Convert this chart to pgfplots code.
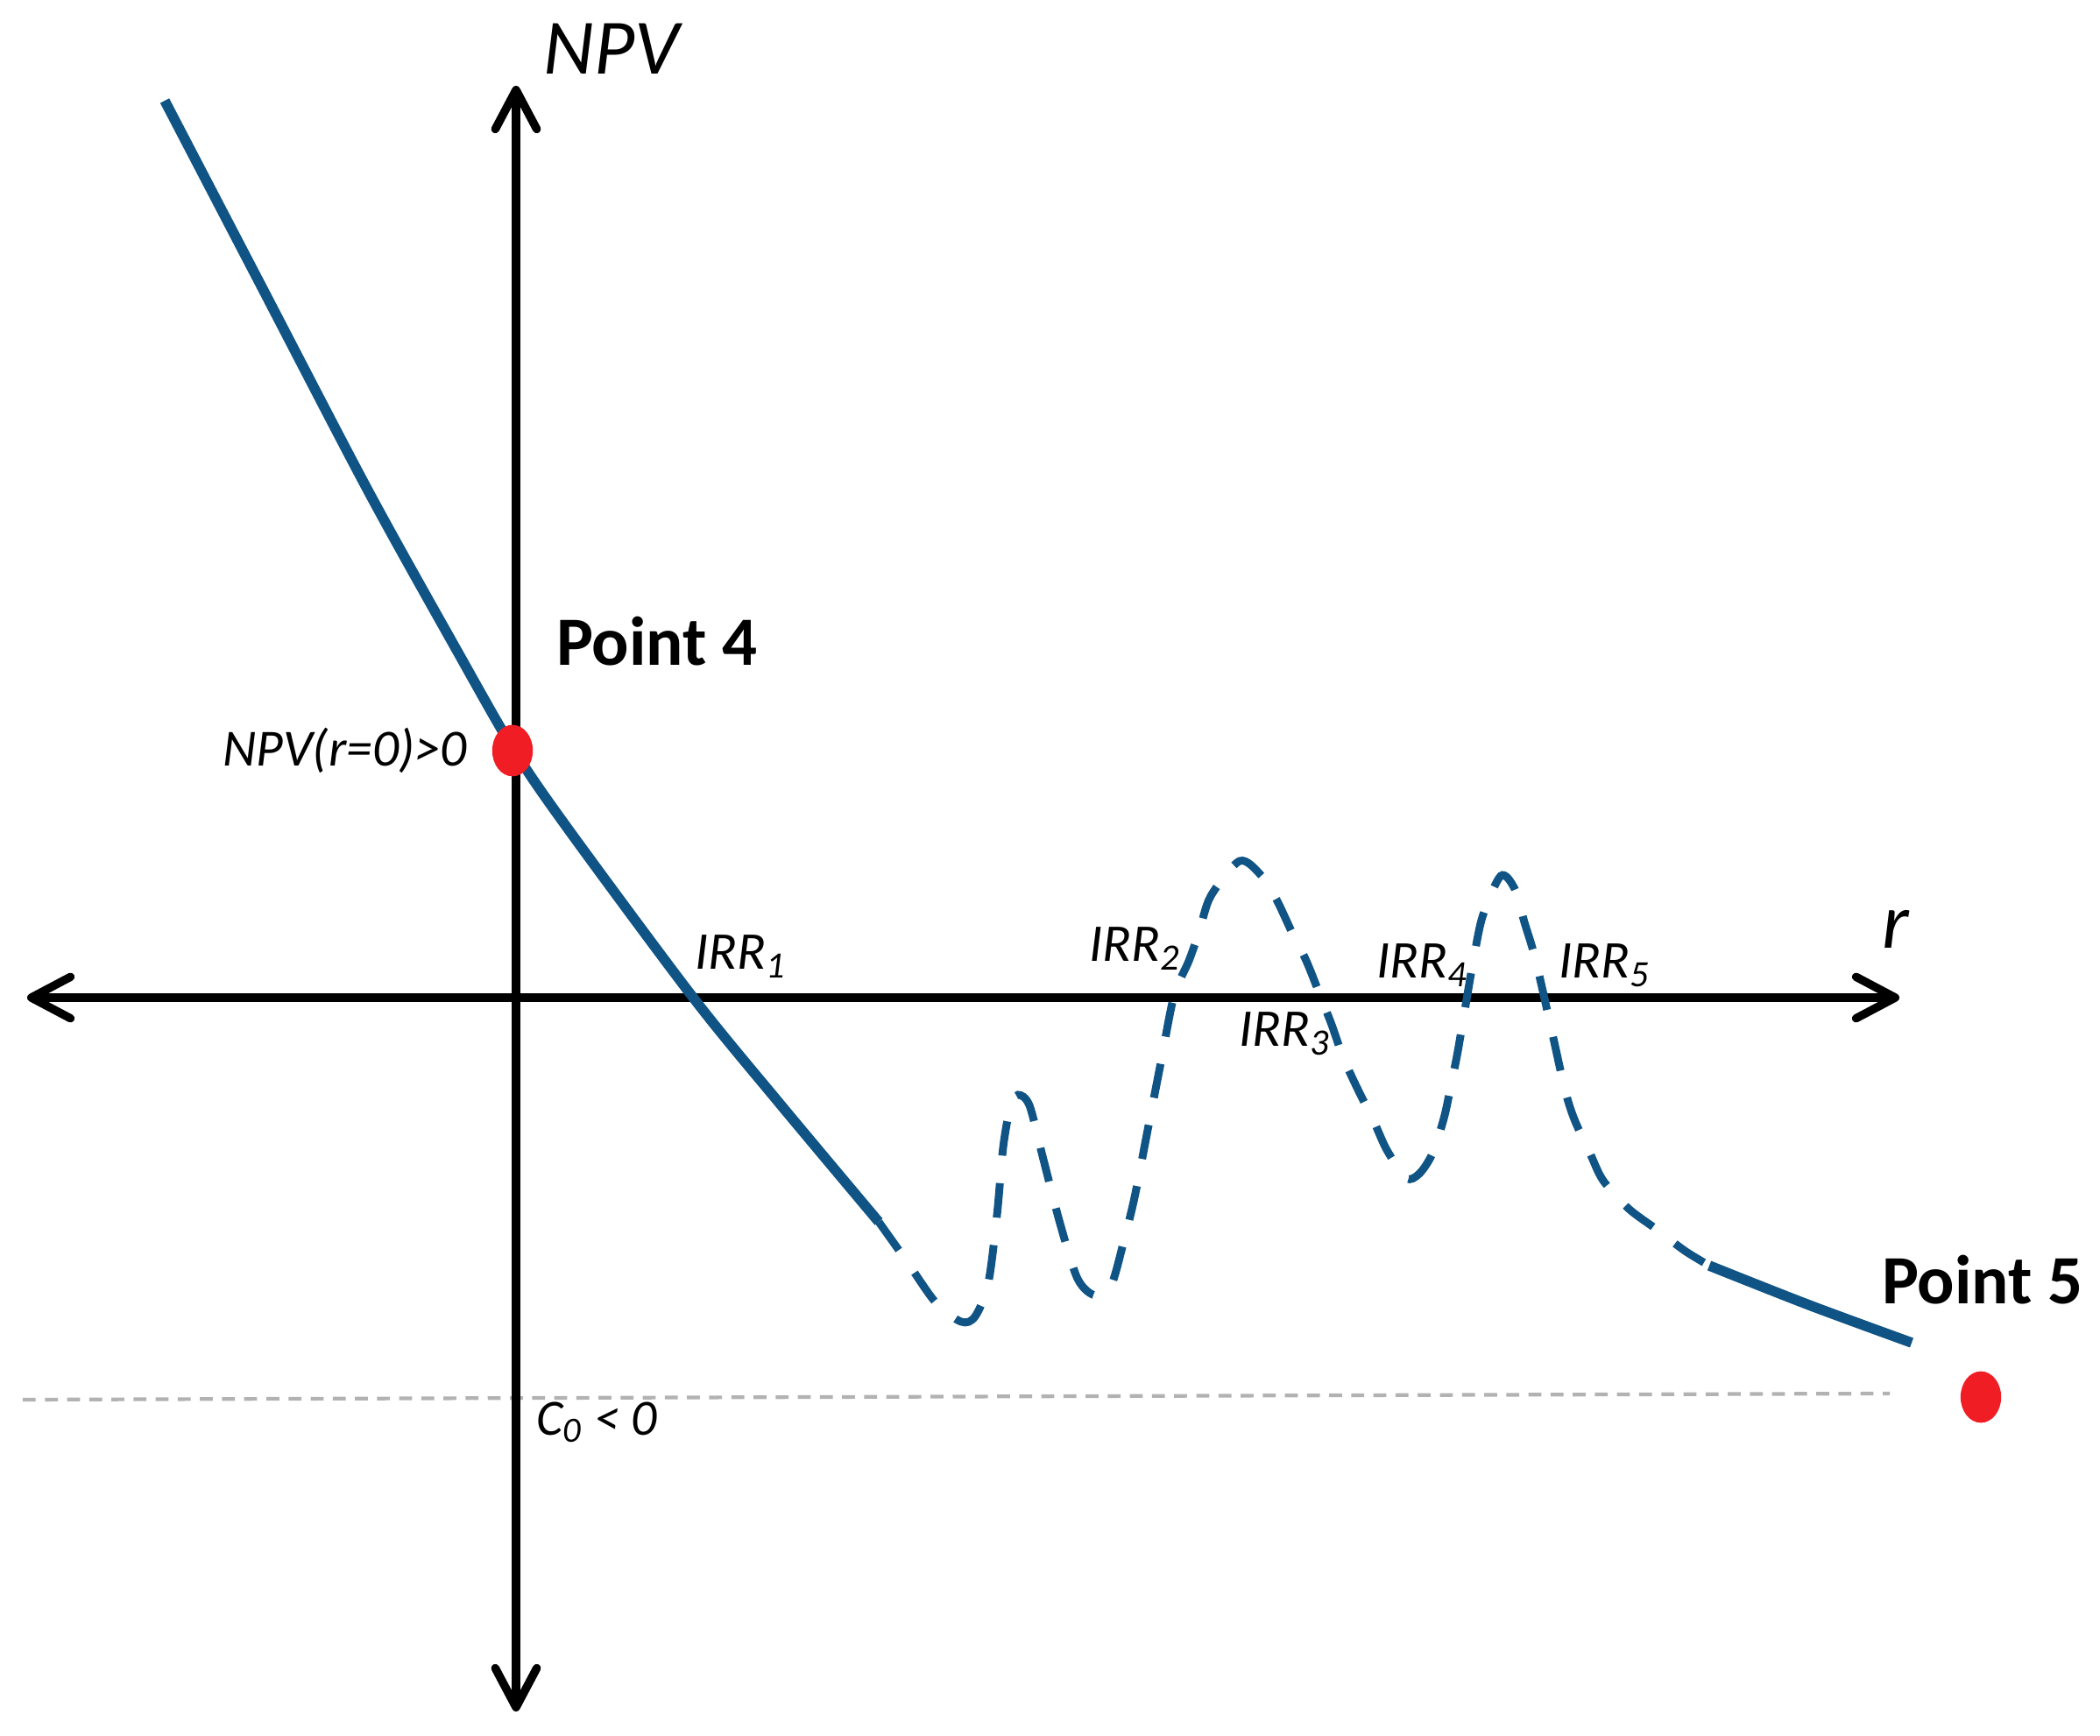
\documentclass[border=0pt]{standalone}
\usepackage{fontspec}
\setmainfont{Carlito}
\usepackage{pgfplots}
\pgfplotsset{compat=1.18}
\usetikzlibrary{arrows.meta}
\definecolor{npvblue}{RGB}{16,84,133}
\definecolor{dotred}{RGB}{240,30,36}
\definecolor{refgray}{RGB}{178,178,178}

\begin{document}
\begin{tikzpicture}
\begin{axis}[
  width=16cm, height=13.2233cm, scale only axis,
  xmin=-589, xmax=1808, ymin=-842, ymax=1139,
  hide axis, clip=false,
  >={Straight Barb[round,length=8.5pt,width=9pt]},
]
% page frame
\path (axis cs:-589,-842) rectangle (axis cs:1808,1139);

% C0 level
\addplot[refgray, line width=0.8pt, dash pattern=on 2.8pt off 2pt]
  coordinates {(-563,-459) (1568,-452)};

% axes
\addplot[black, line width=1.8pt, <->] coordinates {(-558,0) (1579,0)};
\addplot[black, line width=1.8pt, <->] coordinates {(0,-815) (0,1041)};

% NPV profile: solid, dashed, solid
\addplot[npvblue, line width=2.2pt, smooth] coordinates {
  (-401,1024) (-289,809) (-169,579) (-69,399) (-2,282) (62,189)
  (203,-1) (301,-121) (414,-256)
};
\addplot[npvblue, line width=1.7pt, smooth, dash pattern=on 7.5pt off 6pt] coordinates {
  (414,-256) (446,-301) (479,-348) (508,-370) (524,-364) (539,-326)
  (549,-248) (556,-171) (564,-126) (573,-111) (586,-123) (601,-181)
  (621,-258) (641,-321) (661,-340) (679,-329) (693,-281) (706,-228)
  (721,-151) (736,-74) (751,2) (768,42) (780,76) (793,116) (826,156)
  (851,139) (868,112) (885,76) (902,42) (918,2) (931,-31) (944,-68)
  (960,-103) (979,-141) (994,-174) (1016,-206) (1031,-201) (1046,-178)
  (1059,-138) (1067,-101) (1075,-61) (1085,-2) (1092,38) (1103,92)
  (1124,139) (1140,124) (1151,86) (1163,46) (1180,-28) (1197,-104)
  (1208,-139) (1226,-178) (1241,-209) (1270,-241) (1301,-264)
  (1334,-289) (1362,-306)
};
\addplot[npvblue, line width=2.2pt, smooth] coordinates {
  (1362,-306) (1476,-351) (1593,-394)
};

% points 4 and 5
\addplot[only marks, mark=*, mark size=4.2pt, color=dotred,
  mark options={fill=dotred, draw=none, yscale=1.28}]
  coordinates {(-4,282) (1672,-456)};

% labels
\node[inner sep=0pt, anchor=center, font=\fontsize{17}{20}\selectfont\itshape] at (axis cs:109,1083) {NPV};
\node[inner sep=0pt, anchor=base, font=\fontsize{17}{20}\selectfont\itshape] at (axis cs:1575,56) {r};
\node[inner sep=0pt, anchor=base west, font=\fontsize{15}{18}\selectfont\bfseries] at (axis cs:45,379) {Point 4};
\node[inner sep=0pt, anchor=base west, font=\fontsize{15}{18}\selectfont\bfseries] at (axis cs:1558,-349) {Point 5};
\node[inner sep=0pt, anchor=base east, font=\fontsize{11.3}{13}\selectfont\itshape] at (axis cs:-55,264) {NPV(r=0)>0};
\node[inner sep=0pt, anchor=base west, font=\fontsize{11}{13}\selectfont\itshape] at (axis cs:22,-499) {C\textsubscript{0} < 0};
\node[inner sep=0pt, anchor=base west, font=\fontsize{11.5}{13}\selectfont\itshape] at (axis cs:203,32) {IRR\textsubscript{1}};
\node[inner sep=0pt, anchor=base west, font=\fontsize{11.5}{13}\selectfont\itshape] at (axis cs:653,41) {IRR\textsubscript{2}};
\node[inner sep=0pt, anchor=base west, font=\fontsize{11.5}{13}\selectfont\itshape] at (axis cs:824,-56) {IRR\textsubscript{3}};
\node[inner sep=0pt, anchor=base west, font=\fontsize{11.5}{13}\selectfont\itshape] at (axis cs:981,22) {IRR\textsubscript{4}};
\node[inner sep=0pt, anchor=base west, font=\fontsize{11.5}{13}\selectfont\itshape] at (axis cs:1189,22) {IRR\textsubscript{5}};
\end{axis}
\end{tikzpicture}
\end{document}
